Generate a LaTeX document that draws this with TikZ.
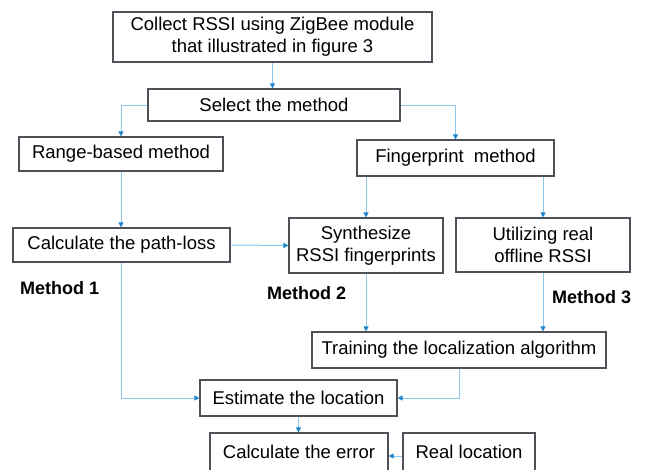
\documentclass[tikz,border=0pt]{standalone}
\usepackage{fontspec}
\setmainfont{Liberation Sans}
\usetikzlibrary{arrows.meta}
\definecolor{linebl}{HTML}{8CC6EA}
\definecolor{tipbl}{HTML}{1F86CC}
\definecolor{boxgr}{HTML}{505058}
\begin{document}
\begin{tikzpicture}[x=1pt,y=-1pt,
  box/.style={draw=boxgr,line width=1.1pt,rectangle,inner sep=0pt,align=center,
    font=\fontsize{18.5}{22}\selectfont,text=black},
  conn/.style={draw=linebl,line width=1pt,-{Triangle[length=5pt,width=5pt,color=tipbl]}},
  mlabel/.style={inner sep=0pt,anchor=west,font=\fontsize{18}{22}\selectfont\bfseries}]
\useasboundingbox (0,0) rectangle (648,469);
\clip (0,0) rectangle (648,469);
\node[box,minimum width=319pt,minimum height=50pt] (collect) at (272.5,37) {Collect RSSI using ZigBee module\\that illustrated in figure 3};
\node[box,minimum width=252pt,minimum height=32pt] (select) at (274,105) {Select the method};
\node[box,minimum width=204pt,minimum height=34pt] (range) at (121,154) {Range-based method};
\node[box,minimum width=197pt,minimum height=36pt] (finger) at (455.5,158) {Fingerprint\ \ method};
\node[box,minimum width=217pt,minimum height=34pt] (pathloss) at (121.5,245) {Calculate the path-loss};
\node[box,minimum width=154pt,minimum height=55pt] (synth) at (366,245.5) {Synthesize\\RSSI fingerprints};
\node[box,minimum width=174pt,minimum height=54pt] (util) at (543,245) {Utilizing real\\offline RSSI};
\node[box,minimum width=294pt,minimum height=36pt] (train) at (459,350) {Training the localization algorithm};
\node[box,minimum width=197pt,minimum height=36pt] (estimate) at (298.5,398) {Estimate the location};
\node[box,minimum width=178pt,minimum height=42pt,text depth=4pt] (error) at (299,454) {Calculate the error};
\node[box,minimum width=132pt,minimum height=42pt,text depth=4pt] (real) at (469,454) {Real location};
\node[mlabel] (m1) at (20,288) {Method 1};
\node[mlabel] (m2) at (267,293) {Method 2};
\node[mlabel] (m3) at (552,297) {Method 3};
% connectors
\draw[conn] (collect.south) -- (collect.south |- select.north);
\draw[conn] (select.west) -| (range.north);
\draw[conn] (select.east) -| (finger.north);
\draw[conn] (range.south) -- (range.south |- pathloss.north);
\draw[conn] (synth.north |- finger.south) -- (synth.north);
\draw[conn] (util.north |- finger.south) -- (util.north);
\draw[conn] (pathloss.east) -- (synth.west);
\draw[conn] (synth.south) -- (synth.south |- train.north);
\draw[conn] (util.south) -- (util.south |- train.north);
\draw[conn] (pathloss.south) |- (estimate.west);
\draw[conn] (train.south) |- (estimate.east);
\draw[conn] (estimate.south) -- (estimate.south |- error.north);
\draw[conn] ([yshift=-2pt]real.west) -- ([yshift=-2pt]error.east);
\end{tikzpicture}
\end{document}
